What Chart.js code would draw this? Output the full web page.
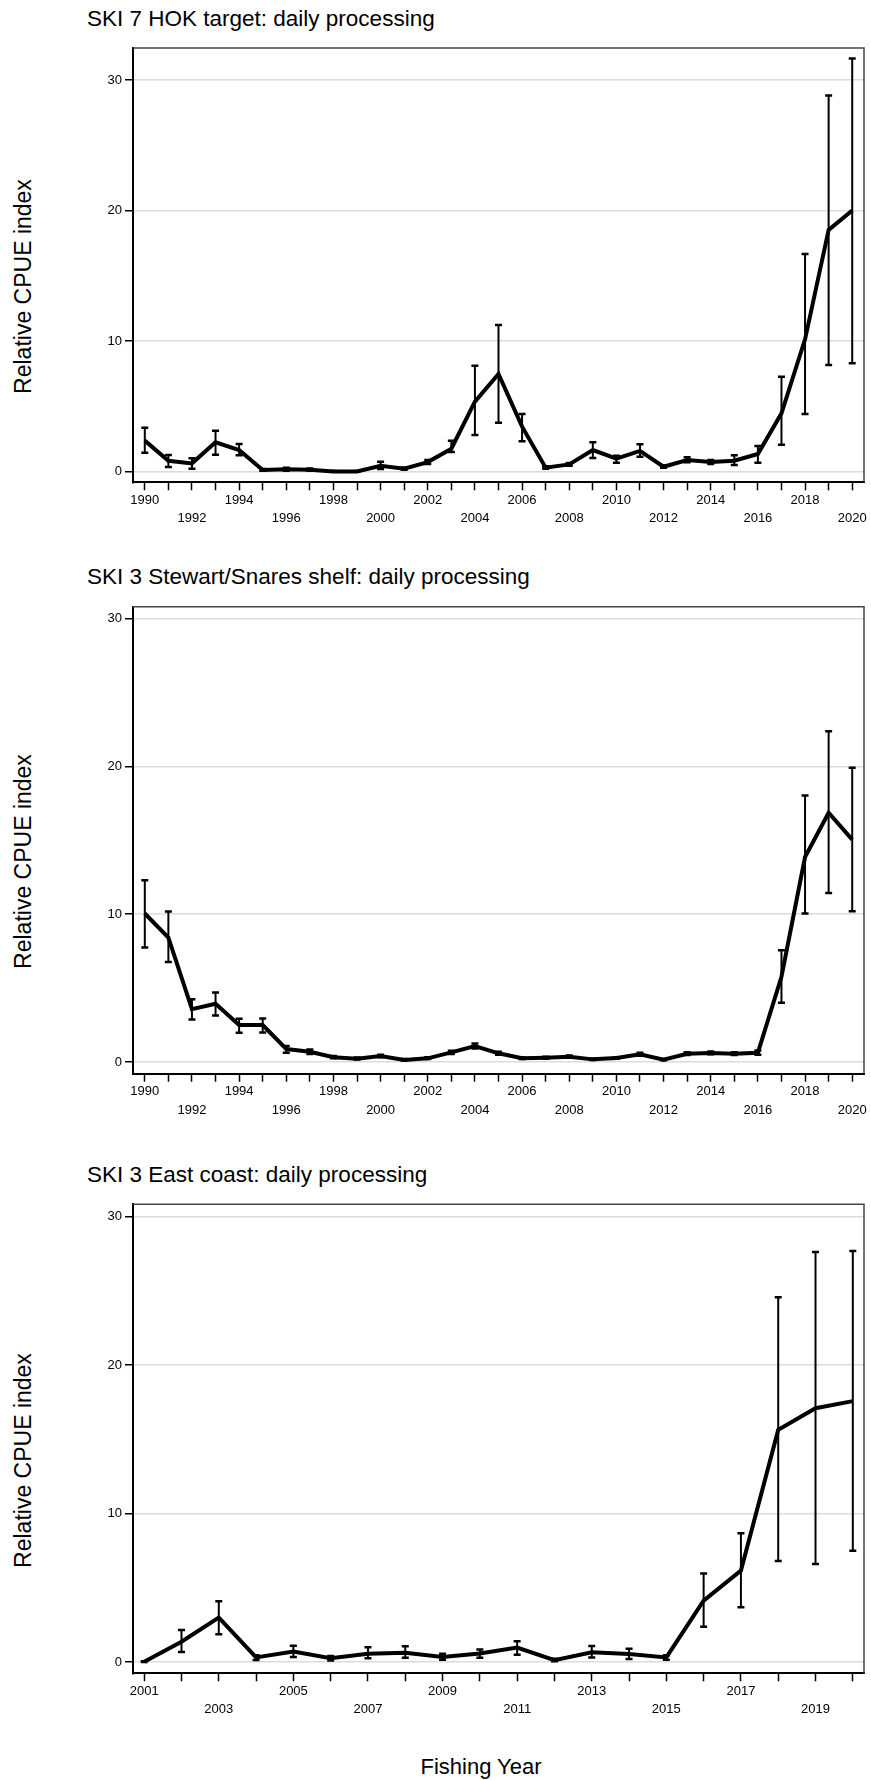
<!DOCTYPE html>
<html>
<head>
<meta charset="utf-8">
<script src="https://cdn.jsdelivr.net/npm/chart.js@4.4.1/dist/chart.umd.min.js"></script>
<style>
  html, body { margin: 0; padding: 0; background: #fff; }
  body { position: relative; width: 871px; height: 1780px; overflow: hidden;
         font-family: "Liberation Sans", Arial, sans-serif; color: #000; }
  canvas { position: absolute; left: 0; }
  .panel-title { position: absolute; left: 87px; font-size: 22.5px; line-height: 22.5px; white-space: nowrap; }
  .y-title { position: absolute; width: 300px; height: 23px; font-size: 23px; line-height: 23px;
             text-align: center; transform: rotate(-90deg); white-space: nowrap; }
  .x-title { position: absolute; width: 200px; font-size: 22px; line-height: 22px; text-align: center; }
</style>
</head>
<body>
<div class="panel-title" style="top:7.7px">SKI 7 HOK target: daily processing</div>
<div class="panel-title" style="top:566px">SKI 3 Stewart/Snares shelf: daily processing</div>
<div class="panel-title" style="top:1163.5px">SKI 3 East coast: daily processing</div>
<div class="y-title" style="left:-127px; top:274.5px">Relative CPUE index</div>
<div class="y-title" style="left:-127px; top:849.5px">Relative CPUE index</div>
<div class="y-title" style="left:-127px; top:1448.5px">Relative CPUE index</div>
<div class="x-title" style="left:381px; top:1756.4px">Fishing Year</div>

<canvas id="c1" width="871" height="540" style="top:0px"></canvas>
<canvas id="c2" width="871" height="590" style="top:540px"></canvas>
<canvas id="c3" width="871" height="650" style="top:1130px"></canvas>

<script>
// SKI 7 HOK target
const ski7Years = [1990, 1991, 1992, 1993, 1994, 1995, 1996, 1997, 1998, 1999, 2000,
  2001, 2002, 2003, 2004, 2005, 2006, 2007, 2008, 2009, 2010,
  2011, 2012, 2013, 2014, 2015, 2016, 2017, 2018, 2019, 2020];
const ski7Index = [2.38, 0.84, 0.64, 2.25, 1.66, 0.13, 0.18, 0.15, 0.02, 0.02, 0.46,
  0.23, 0.74, 1.76, 5.37, 7.49, 3.45, 0.31, 0.56, 1.66, 1.0,
  1.59, 0.38, 0.9, 0.74, 0.84, 1.36, 4.47, 10.14, 18.52, 20.0];
const ski7Lower = [1.46, 0.36, 0.23, 1.3, 1.26, 0.08, 0.08, 0.08, 0.0, 0.0, 0.2,
  0.15, 0.6, 1.51, 2.81, 3.76, 2.33, 0.22, 0.45, 1.05, 0.69,
  1.15, 0.3, 0.72, 0.6, 0.51, 0.69, 2.07, 4.42, 8.18, 8.31];
const ski7Upper = [3.37, 1.28, 1.03, 3.14, 2.12, 0.2, 0.3, 0.25, 0.05, 0.05, 0.77,
  0.32, 0.9, 2.38, 8.12, 11.24, 4.42, 0.42, 0.67, 2.25, 1.23,
  2.1, 0.48, 1.1, 0.9, 1.26, 1.97, 7.28, 16.67, 28.81, 31.65];
const ski7TickLabels = ["1990", "1992", "1994", "1996", "1998", "2000", "2002", "2004",
  "2006", "2008", "2010", "2012", "2014", "2016", "2018", "2020"];

// SKI 3 Stewart/Snares shelf
const ski3sYears = ski7Years.slice();
const ski3sIndex = [10.05, 8.42, 3.58, 3.94, 2.5, 2.5, 0.88, 0.7, 0.32, 0.23, 0.41,
  0.14, 0.25, 0.65, 1.08, 0.59, 0.25, 0.29, 0.36, 0.18, 0.27,
  0.52, 0.16, 0.56, 0.61, 0.56, 0.63, 5.77, 13.87, 16.87, 15.05];
const ski3sLower = [7.75, 6.76, 2.88, 3.15, 1.98, 2.0, 0.63, 0.55, 0.25, 0.17, 0.33,
  0.1, 0.2, 0.55, 0.92, 0.5, 0.2, 0.23, 0.29, 0.14, 0.22,
  0.43, 0.12, 0.47, 0.52, 0.47, 0.5, 4.01, 10.05, 11.44, 10.2];
const ski3sUpper = [12.3, 10.18, 4.24, 4.71, 2.93, 2.95, 1.08, 0.85, 0.4, 0.3, 0.5,
  0.2, 0.32, 0.77, 1.25, 0.7, 0.3, 0.36, 0.44, 0.23, 0.33,
  0.62, 0.2, 0.66, 0.71, 0.66, 0.78, 7.57, 18.04, 22.39, 19.91];
const ski3sTickLabels = ski7TickLabels.slice();

// SKI 3 East coast
const ski3eYears = [2001, 2002, 2003, 2004, 2005, 2006, 2007, 2008, 2009, 2010,
  2011, 2012, 2013, 2014, 2015, 2016, 2017, 2018, 2019, 2020];
const ski3eIndex = [0.02, 1.37, 2.99, 0.31, 0.7, 0.25, 0.56, 0.63, 0.34, 0.58,
  0.97, 0.13, 0.65, 0.54, 0.31, 4.14, 6.16, 15.64, 17.1, 17.58];
const ski3eLower = [0.0, 0.67, 1.87, 0.13, 0.34, 0.1, 0.25, 0.29, 0.15, 0.29,
  0.49, 0.05, 0.31, 0.2, 0.15, 2.38, 3.69, 6.81, 6.61, 7.5];
const ski3eUpper = [0.05, 2.16, 4.09, 0.45, 1.1, 0.4, 1.0, 1.07, 0.55, 0.85,
  1.4, 0.22, 1.08, 0.9, 0.45, 5.96, 8.68, 24.57, 27.63, 27.7];
const ski3eTickLabels = ["2001", "2003", "2005", "2007", "2009", "2011", "2013",
  "2015", "2017", "2019"];

const yTickValues = [0, 10, 20, 30];

Chart.defaults.font.family = '"Liberation Sans", Arial, sans-serif';
Chart.defaults.color = "#000";

// error bars with caps, drawn through the chart scales
const errorBarPlugin = {
  id: "errorBars",
  afterDatasetsDraw(chart, args, opts) {
    const ctx = chart.ctx;
    const xs = chart.scales.x, ys = chart.scales.y;
    ctx.save();
    ctx.strokeStyle = "#000";
    opts.years.forEach((yr, i) => {
      const px = xs.getPixelForValue(yr);
      const lo = ys.getPixelForValue(opts.lower[i]);
      const hi = ys.getPixelForValue(opts.upper[i]);
      ctx.lineWidth = 2;
      ctx.beginPath();
      ctx.moveTo(px, lo);
      ctx.lineTo(px, hi);
      ctx.stroke();
      ctx.lineWidth = 2.5;
      ctx.beginPath();
      ctx.moveTo(px - 3.5, lo);
      ctx.lineTo(px + 3.5, lo);
      ctx.moveTo(px - 3.5, hi);
      ctx.lineTo(px + 3.5, hi);
      ctx.stroke();
    });
    ctx.restore();
  }
};

// top and right edges of the plot box
const framePlugin = {
  id: "frame",
  beforeDatasetsDraw(chart) {
    const {ctx, chartArea: a} = chart;
    ctx.save();
    ctx.strokeStyle = "#444";
    ctx.lineWidth = 1.5;
    ctx.beginPath();
    ctx.moveTo(a.left, a.top);
    ctx.lineTo(a.right, a.top);
    ctx.lineTo(a.right, a.bottom);
    ctx.stroke();
    ctx.restore();
  }
};

function makePanel(p) {
  const axisHeight = p.height - (p.plotBottom - p.top);
  new Chart(document.getElementById(p.id), {
    type: "line",
    data: {
      datasets: [{
        data: p.years.map((yr, i) => ({x: yr, y: p.index[i]})),
        borderColor: "#000",
        borderWidth: 4,
        pointRadius: 0,
        tension: 0,
        fill: false
      }]
    },
    options: {
      responsive: false,
      animation: false,
      layout: {padding: {top: p.plotTop - p.top, right: 7, left: 0, bottom: 0}},
      plugins: {
        legend: {display: false},
        tooltip: {enabled: false},
        errorBars: {years: p.years, lower: p.lower, upper: p.upper}
      },
      scales: {
        x: {
          type: "linear",
          min: p.xMin,
          max: p.xMax,
          afterBuildTicks: (scale) => {
            scale.ticks = p.years.map(v => ({value: v}));
          },
          afterFit: (scale) => { scale.height = axisHeight; },
          grid: {drawOnChartArea: false, drawTicks: true, tickLength: 8,
                 tickColor: "#000", tickWidth: 1.5},
          border: {display: true, color: "#000", width: 2},
          ticks: {
            autoSkip: false,
            maxRotation: 0,
            padding: 1,
            color: "#000",
            font: {size: 13, lineHeight: 1.4},
            callback: (value) => {
              const k = p.tickLabels.indexOf(String(value));
              if (k < 0) return "";
              return k % 2 === 0 ? p.tickLabels[k] : ["", p.tickLabels[k]];
            }
          }
        },
        y: {
          min: p.yMin,
          max: p.yMax,
          afterBuildTicks: (scale) => {
            scale.ticks = yTickValues.map(v => ({value: v}));
          },
          afterFit: (scale) => { scale.width = 133; },
          grid: {color: "#dcdcdc", lineWidth: 1.5, drawTicks: true, tickLength: 8,
                 tickColor: "#000", tickWidth: 1.5},
          border: {display: true, color: "#000", width: 2},
          ticks: {padding: 3, color: "#000", font: {size: 13},
                  callback: (value) => String(value)}
        }
      }
    },
    plugins: [framePlugin, errorBarPlugin]
  });
}

makePanel({id: "c1", top: 0, height: 540, plotTop: 48, plotBottom: 482.3,
  xMin: 1989.5, xMax: 2020.5, yMin: -0.81, yMax: 32.45,
  years: ski7Years, index: ski7Index, lower: ski7Lower, upper: ski7Upper,
  tickLabels: ski7TickLabels});
makePanel({id: "c2", top: 540, height: 590, plotTop: 606.7, plotBottom: 1073.7,
  xMin: 1989.5, xMax: 2020.5, yMin: -0.79, yMax: 30.81,
  years: ski3sYears, index: ski3sIndex, lower: ski3sLower, upper: ski3sUpper,
  tickLabels: ski3sTickLabels});
makePanel({id: "c3", top: 1130, height: 650, plotTop: 1204.3, plotBottom: 1673.3,
  xMin: 2000.7, xMax: 2020.3, yMin: -0.76, yMax: 30.84,
  years: ski3eYears, index: ski3eIndex, lower: ski3eLower, upper: ski3eUpper,
  tickLabels: ski3eTickLabels});
</script>
</body>
</html>
